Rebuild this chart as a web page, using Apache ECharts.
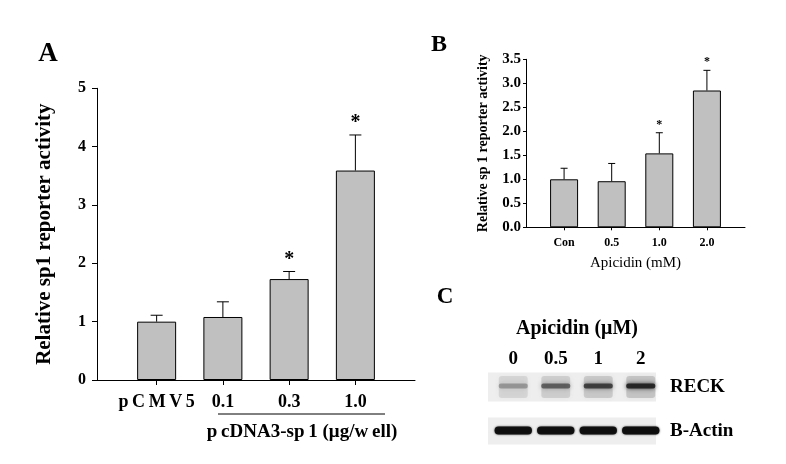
<!DOCTYPE html>
<html>
<head>
<meta charset="utf-8">
<script src="https://cdn.jsdelivr.net/npm/echarts@6/dist/echarts.min.js"></script>
<style>
html,body{margin:0;padding:0;background:#fff;}
#chart{width:786px;height:464px;}
</style>
</head>
<body>
<div id="chart"></div>
<script>
// ---- Panel A data ----
const catsA = ['p\u2009C\u2009M\u2009V\u20095', '0.1', '0.3', '1.0'];
const valsA = [1.0, 1.08, 1.73, 3.59];
const errA  = [0.11, 0.26, 0.13, 0.61];
const sigA  = ['', '', '*', '*'];
// ---- Panel B data ----
const catsB = ['Con', '0.5', '1.0', '2.0'];
const valsB = [1.0, 0.96, 1.54, 2.85];
const errB  = [0.23, 0.37, 0.43, 0.42];
const sigB  = ['', '', '*', '*'];
// ---- Panel C (western blot) data ----
const lanesC = ['0', '0.5', '1', '2'];
const rowsC  = ['RECK', 'B-Actin'];
const reckLevel  = [0.3, 0.55, 0.72, 0.9];
const actinLevel = [0.95, 0.95, 0.95, 0.97];

const SERIF = '"Liberation Serif", "Times New Roman", serif';
const chart = echarts.init(document.getElementById('chart'), null, {renderer: 'canvas'});

function errRender(cap, starSize, sig) {
  return function (params, api) {
    const x = api.value(0), y = api.value(1), e = api.value(2);
    const p0 = api.coord([x, y]);
    const p1 = api.coord([x, y + e]);
    const s = sig[params.dataIndex];
    return {
      type: 'group',
      children: [
        {type: 'line', shape: {x1: p0[0], y1: p0[1], x2: p1[0], y2: p1[1]}, style: {stroke: '#000', lineWidth: 1}},
        {type: 'line', shape: {x1: p1[0] - cap / 2, y1: p1[1], x2: p1[0] + cap / 2, y2: p1[1]}, style: {stroke: '#000', lineWidth: 1}},
        {type: 'text', x: p1[0], y: p1[1] - 2, style: {text: s, fill: '#000', font: 'bold ' + starSize + 'px ' + SERIF, align: 'center', verticalAlign: 'bottom'}}
      ]
    };
  };
}

const blotData = [];
lanesC.forEach((l, i) => {
  blotData.push([i, 0, reckLevel[i]]);
  blotData.push([i, 1, actinLevel[i]]);
});

const option = {
  animation: false,
  backgroundColor: '#fff',
  graphic: [
    {type: 'text', x: 48, y: 54, style: {text: 'A', fill: '#000', font: 'bold 27px ' + SERIF, align: 'center', verticalAlign: 'middle'}},
    {type: 'text', x: 439, y: 45, style: {text: 'B', fill: '#000', font: 'bold 24px ' + SERIF, align: 'center', verticalAlign: 'middle'}},
    {type: 'text', x: 445, y: 297, style: {text: 'C', fill: '#000', font: 'bold 23px ' + SERIF, align: 'center', verticalAlign: 'middle'}},
    {type: 'line', shape: {x1: 218, y1: 414, x2: 385, y2: 414}, style: {stroke: '#000', lineWidth: 1}},
    {type: 'text', x: 302, y: 432, style: {text: 'p\u2009cDNA3-sp\u20091 (\u03bcg/w\u2009ell)', fill: '#000', font: 'bold 19px ' + SERIF, align: 'center', verticalAlign: 'middle'}}
  ],
  grid: [
    {left: 97, top: 88.3, width: 318, height: 291.7},
    {left: 526, top: 59.3, width: 219, height: 168},
    {left: 492, top: 365, width: 170, height: 88}
  ],
  xAxis: [
    {
      gridIndex: 0, type: 'value', min: -0.9, max: 3.9,
      splitLine: {show: false},
      axisLine: {show: true, onZero: false, lineStyle: {color: '#000', width: 1}},
      axisTick: {show: true, customValues: [0, 1, 2, 3], length: 5, lineStyle: {color: '#000'}},
      axisLabel: {customValues: [0, 1, 2, 3], formatter: v => catsA[Math.round(v)], margin: 13,
        color: '#000', fontFamily: SERIF, fontWeight: 'bold', fontSize: 18}
    },
    {
      gridIndex: 1, type: 'value', min: -0.8, max: 3.8,
      splitLine: {show: false},
      axisLine: {show: true, onZero: false, lineStyle: {color: '#000', width: 1}},
      axisTick: {show: true, customValues: [0, 1, 2, 3], length: 3, lineStyle: {color: '#000'}},
      axisLabel: {customValues: [0, 1, 2, 3], formatter: v => catsB[Math.round(v)], margin: 10,
        color: '#000', fontFamily: SERIF, fontWeight: 'bold', fontSize: 12},
      name: 'Apicidin (mM)', nameLocation: 'middle', nameGap: 28,
      nameTextStyle: {color: '#000', fontFamily: SERIF, fontSize: 15}
    },
    {
      gridIndex: 2, type: 'category', data: lanesC, position: 'top',
      axisLine: {show: false}, axisTick: {show: false}, splitLine: {show: false},
      axisLabel: {margin: -4, color: '#000', fontFamily: SERIF, fontWeight: 'bold', fontSize: 19},
      name: 'Apicidin (\u03bcM)', nameLocation: 'middle', nameGap: 26,
      nameTextStyle: {color: '#000', fontFamily: SERIF, fontWeight: 'bold', fontSize: 20}
    }
  ],
  yAxis: [
    {
      gridIndex: 0, type: 'value', min: 0, max: 5, interval: 1,
      splitLine: {show: false},
      axisLine: {show: true, onZero: false, lineStyle: {color: '#000', width: 1}},
      axisTick: {show: true, length: 5, lineStyle: {color: '#000'}},
      axisLabel: {margin: 11, color: '#000', fontFamily: SERIF, fontWeight: 'bold', fontSize: 16},
      name: 'Relative sp1 reporter activity', nameLocation: 'middle', nameGap: 42, nameRotate: 90,
      nameTextStyle: {color: '#000', fontFamily: SERIF, fontWeight: 'bold', fontSize: 21}
    },
    {
      gridIndex: 1, type: 'value', min: 0, max: 3.5, interval: 0.5,
      splitLine: {show: false},
      axisLine: {show: true, onZero: false, lineStyle: {color: '#000', width: 1}},
      axisTick: {show: true, length: 3, lineStyle: {color: '#000'}},
      axisLabel: {margin: 5, formatter: v => v.toFixed(1), color: '#000', fontFamily: SERIF, fontWeight: 'bold', fontSize: 15},
      name: 'Relative sp 1 reporter activity', nameLocation: 'middle', nameGap: 36, nameRotate: 90,
      nameTextStyle: {color: '#000', fontFamily: SERIF, fontWeight: 'bold', fontSize: 14}
    },
    {
      gridIndex: 2, type: 'category', data: rowsC, inverse: true, position: 'right',
      axisLine: {show: false}, axisTick: {show: false}, splitLine: {show: false},
      axisLabel: {margin: 8, color: '#000', fontFamily: SERIF, fontWeight: 'bold', fontSize: 19}
    }
  ],
  series: [
    {
      type: 'bar', xAxisIndex: 0, yAxisIndex: 0, barWidth: 39,
      data: valsA.map((v, i) => [i, v]),
      itemStyle: {color: '#c0c0c0', borderColor: '#000', borderWidth: 1}
    },
    {
      type: 'custom', xAxisIndex: 0, yAxisIndex: 0, z: 5,
      data: valsA.map((v, i) => [i, v, errA[i]]),
      renderItem: errRender(12, 20, sigA)
    },
    {
      type: 'bar', xAxisIndex: 1, yAxisIndex: 1, barWidth: 28,
      data: valsB.map((v, i) => [i, v]),
      itemStyle: {color: '#c0c0c0', borderColor: '#000', borderWidth: 1}
    },
    {
      type: 'custom', xAxisIndex: 1, yAxisIndex: 1, z: 5,
      data: valsB.map((v, i) => [i, v, errB[i]]),
      renderItem: errRender(7, 12, sigB)
    },
    {
      // blot membrane background for each row
      type: 'custom', xAxisIndex: 2, yAxisIndex: 2, z: 1,
      data: rowsC.map((r, ri) => [0, ri]),
      renderItem: function (params, api) {
        const c = api.coord([0, api.value(1)]);
        const cs = params.coordSys;
        const h = api.value(1) === 0 ? 29 : 27;
        return {type: 'rect', shape: {x: cs.x - 4, y: c[1] - h / 2, width: cs.width - 2, height: h},
          style: {fill: '#eeeeee'}};
      }
    },
    {
      // bands
      type: 'custom', xAxisIndex: 2, yAxisIndex: 2, z: 2,
      data: blotData,
      renderItem: function (params, api) {
        const lane = api.value(0), row = api.value(1), lv = api.value(2);
        const c = api.coord([lane, row]);
        const bw = api.size([1, 0])[0];
        if (row === 0) {
          return {type: 'group', children: [
            {type: 'rect', shape: {x: c[0] - bw * 0.34, y: c[1] - 11, width: bw * 0.68, height: 22, r: 3},
              style: {fill: 'rgba(100,100,100,' + (0.1 + lv * 0.18) + ')', shadowBlur: 5, shadowColor: 'rgba(100,100,100,0.3)'}},
            {type: 'rect', shape: {x: c[0] - bw * 0.34, y: c[1] - 3.5, width: bw * 0.68, height: 5, r: 2},
              style: {fill: 'rgba(30,30,30,' + lv + ')', shadowBlur: 4, shadowColor: 'rgba(30,30,30,' + lv + ')'}}
          ]};
        }
        return {type: 'rect', shape: {x: c[0] - bw * 0.44, y: c[1] - 4.5, width: bw * 0.88, height: 8, r: 4},
          style: {fill: 'rgba(12,12,12,' + lv + ')', shadowBlur: 2, shadowColor: 'rgba(12,12,12,0.8)'}};
      }
    }
  ]
};
chart.setOption(option);
</script>
</body>
</html>
